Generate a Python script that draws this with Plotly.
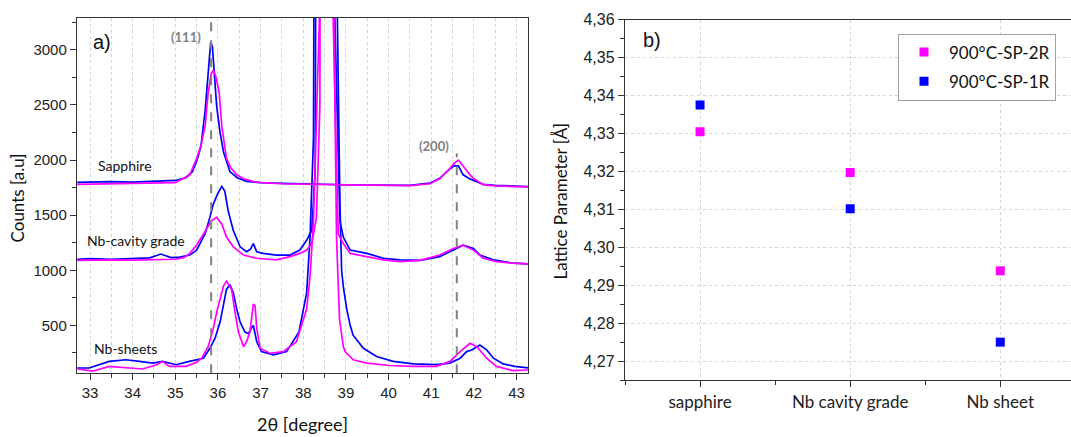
import plotly.graph_objects as go

W, H = 1071, 437

# ---------------- panel a: XRD scans (2theta in degree, counts) ----------------
# Sapphire substrate
sap_1r_x = [32.70, 33.0, 33.5, 34.0, 34.5, 35.0, 35.25, 35.4, 35.5, 35.6, 35.7, 35.76, 35.8, 35.83,
            35.87, 35.92, 35.97, 36.05, 36.13, 36.28, 36.45, 36.67, 37.0, 37.5, 38.0, 38.5, 39.0,
            39.5, 40.0, 40.5, 40.97, 41.2, 41.44, 41.55, 41.64, 41.75, 41.9, 42.0, 42.22, 42.5, 43.0, 43.27]
sap_1r_y = [1798, 1802, 1805, 1800, 1805, 1815, 1840, 1895, 1990, 2120, 2450, 2750, 2950, 3070,
            3030, 2800, 2490, 2250, 2074, 1896, 1840, 1807, 1795, 1788, 1782, 1778, 1776,
            1774, 1772, 1770, 1790, 1835, 1920, 1950, 1945, 1866, 1830, 1815, 1780, 1770, 1762, 1760]
sap_2r_x = [32.70, 33.0, 33.5, 34.0, 34.5, 35.0, 35.34, 35.5, 35.6, 35.7, 35.77, 35.84, 35.89,
            35.95, 36.03, 36.09, 36.2, 36.3, 36.44, 36.6, 36.82, 37.0, 37.5, 38.0, 38.5, 39.0,
            39.5, 40.0, 40.5, 40.97, 41.2, 41.44, 41.55, 41.64, 41.72, 41.8, 41.91, 42.0, 42.22,
            42.5, 43.0, 43.27]
sap_2r_y = [1780, 1782, 1785, 1783, 1786, 1795, 1866, 2015, 2130, 2311, 2609, 2780, 2817,
            2760, 2609, 2311, 2015, 1930, 1866, 1830, 1807, 1795, 1785, 1780, 1777, 1775,
            1772, 1770, 1768, 1785, 1830, 1926, 1975, 2000, 1960, 1910, 1866, 1830, 1777,
            1765, 1758, 1756]

# Nb cavity grade
cav_1r_x = [32.70, 33.0, 33.5, 34.0, 34.4, 34.66, 34.9, 35.1, 35.34, 35.5, 35.7, 35.81, 35.89,
            36.0, 36.09, 36.16, 36.24, 36.36, 36.52, 36.67, 36.76, 36.83, 36.91, 37.06, 37.37,
            37.69, 37.92, 38.08, 38.2, 38.28, 38.33, 38.55, 38.74, 38.82, 38.86, 38.94, 39.1,
            39.49, 39.88, 40.27, 40.74, 41.2, 41.52, 41.75, 41.99, 42.14, 42.46, 42.92, 43.27]
cav_1r_y = [1100, 1105, 1100, 1108, 1112, 1147, 1115, 1120, 1138, 1183, 1332, 1480, 1599,
            1700, 1762, 1718, 1539, 1361, 1213, 1168, 1190, 1242, 1168, 1153, 1138,
            1138, 1183, 1272, 1361, 1896, 3300, 40000, 3300, 1896, 1450, 1300, 1183,
            1153, 1109, 1094, 1090, 1124, 1183, 1228, 1198, 1139, 1094, 1064, 1058]
cav_2r_x = [32.70, 33.0, 33.5, 34.0, 34.5, 35.0, 35.2, 35.34, 35.5, 35.7, 35.85, 35.97, 36.09,
            36.2, 36.36, 36.6, 36.91, 37.37, 37.69, 37.92, 38.08, 38.2, 38.31, 38.39, 38.43,
            38.55, 38.7, 38.78, 38.82, 38.9, 38.94, 39.1, 39.49, 39.88, 40.27, 40.74, 41.2,
            41.52, 41.75, 41.99, 42.22, 42.53, 42.92, 43.27]
cav_2r_y = [1090, 1092, 1095, 1092, 1096, 1100, 1115, 1153, 1228, 1361, 1450, 1480, 1421,
            1302, 1213, 1138, 1109, 1094, 1124, 1153, 1183, 1242, 1480, 2490, 3300,
            40000, 3300, 1896, 1332, 1272, 1242, 1153, 1124, 1094, 1079, 1090, 1139,
            1198, 1228, 1183, 1109, 1079, 1064, 1058]

# Nb sheets
sht_1r_x = [32.70, 32.98, 33.45, 33.84, 34.16, 34.47, 34.7, 35.02, 35.33, 35.66, 35.81, 35.93,
            36.05, 36.13, 36.2, 36.28, 36.36, 36.44, 36.52, 36.63, 36.71, 36.83, 36.91, 37.02,
            37.3, 37.61, 37.9, 38.08, 38.16, 38.24, 38.28, 38.55, 38.8, 38.86, 38.9, 38.94,
            39.02, 39.1, 39.17, 39.41, 39.72, 40.11, 40.58, 41.13, 41.44, 41.68, 41.83, 41.95,
            42.14, 42.3, 42.46, 42.69, 42.96, 43.27]
sht_1r_y = [113, 113, 173, 188, 173, 158, 173, 143, 173, 202, 292, 381,
            530, 678, 826, 871, 797, 648, 530, 440, 425, 500, 351, 262,
            233, 262, 440, 797, 1302, 2195, 3300, 40000, 3300, 1599, 1000, 850,
            648, 500, 411, 292, 217, 173, 150, 143, 158, 202, 262, 277,
            322, 277, 202, 150, 128, 115]
sht_2r_x = [32.70, 33.06, 33.45, 33.84, 34.23, 34.55, 34.7, 34.86, 35.25, 35.5, 35.62, 35.77,
            35.89, 35.97, 36.05, 36.13, 36.2, 36.32, 36.4, 36.48, 36.6, 36.67, 36.75, 36.83,
            36.87, 36.91, 36.99, 37.22, 37.53, 37.84, 38.08, 38.16, 38.24, 38.31, 38.38, 38.55,
            38.72, 38.78, 38.85, 38.94, 38.98, 39.17, 39.49, 40.03, 40.58, 41.13, 41.44, 41.68,
            41.91, 42.07, 42.3, 42.53, 42.92, 43.27]
sht_2r_y = [104, 84, 128, 113, 104, 140, 173, 128, 128, 165, 202, 307,
            470, 619, 737, 856, 901, 826, 619, 440, 307, 351, 440, 693,
            678, 470, 292, 247, 262, 351, 648, 946, 1450, 2490, 3300, 40000,
            3300, 1302, 559, 307, 262, 188, 158, 136, 128, 128, 173, 262,
            337, 307, 202, 128, 90, 95]

peak_labels = ["(111)", "(200)"]
peak_pos = [35.84, 41.6]
peak_line_top = [3291, 2062]
peak_label_xy = [(35.25, 3119), (41.07, 2129)]
sample_labels = ["Sapphire", "Nb-cavity grade", "Nb-sheets"]
sample_label_xy = [(33.83, 1955), (34.08, 1272), (33.84, 291)]

# ---------------- panel b: lattice parameter ----------------
categories = ["sapphire", "Nb cavity grade", "Nb sheet"]
lat_2r = [4.3305, 4.3197, 4.2938]
lat_1r = [4.3375, 4.3102, 4.2750]

BLUE = "#0000ff"
MAG = "#ff00ff"
TXT = "#222222"
AX = "#333333"
GRID = "#d4d4d4"
ARIAL = "Arial, Liberation Sans, sans-serif"
CAL = "Lato, Carlito, Calibri, sans-serif"

fig = go.Figure()
for (xs, ys, col) in [(sap_1r_x, sap_1r_y, BLUE), (cav_1r_x, cav_1r_y, BLUE), (sht_1r_x, sht_1r_y, BLUE),
                      (sap_2r_x, sap_2r_y, MAG), (cav_2r_x, cav_2r_y, MAG), (sht_2r_x, sht_2r_y, MAG)]:
    fig.add_trace(go.Scatter(x=xs, y=ys, mode="lines", line=dict(color=col, width=1.7),
                             xaxis="x", yaxis="y", showlegend=False, hoverinfo="skip"))

cat_idx = list(range(len(categories)))
fig.add_trace(go.Scatter(x=cat_idx, y=lat_2r, mode="markers", name="900°C-SP-2R", legendgroup="g1",
                         marker=dict(symbol="square", size=9, color=MAG), xaxis="x2", yaxis="y2"))
fig.add_trace(go.Scatter(x=cat_idx, y=lat_1r, mode="markers", name="900°C-SP-1R", legendgroup="g2",
                         marker=dict(symbol="square", size=9, color=BLUE), xaxis="x2", yaxis="y2"))

# reference dashed lines
for xp, yt in zip(peak_pos, peak_line_top):
    fig.add_shape(type="line", xref="x", yref="y", x0=xp, x1=xp, y0=66, y1=yt,
                  line=dict(color="#808080", width=2, dash="dash"))

ann = []
for t, (xa, ya) in zip(peak_labels, peak_label_xy):
    ann.append(dict(x=xa, y=ya, xref="x", yref="y", text="<b>%s</b>" % t,
                    font=dict(family=CAL, size=13, color="#7f7f7f")))
for t, (xa, ya) in zip(sample_labels, sample_label_xy):
    ann.append(dict(x=xa, y=ya, xref="x", yref="y", text=t,
                    font=dict(family=CAL, size=14, color="#111111")))
ann.append(dict(x=33.27, y=3074, xref="x", yref="y", text="a)",
                font=dict(family=ARIAL, size=20, color="#111111")))
ann.append(dict(x=-0.32, y=4.3546, xref="x2", yref="y2", text="b)",
                font=dict(family=ARIAL, size=20, color="#111111")))
# axis titles
ann.append(dict(x=17 / W, y=1 - 194 / H, xref="paper", yref="paper", text="Counts [a.u]",
                textangle=-90, font=dict(family=CAL, size=17, color="#111111")))
ann.append(dict(x=302 / W, y=1 - 424 / H, xref="paper", yref="paper", text="2θ [degree]",
                font=dict(family=CAL, size=18, color="#111111")))
ann.append(dict(x=560 / W, y=1 - 197 / H, xref="paper", yref="paper", text="Lattice Parameter [Å]",
                textangle=-90, font=dict(family=CAL, size=17, color="#111111")))
for a in ann:
    a.update(showarrow=False, xanchor="center", yanchor="middle")

common = dict(showline=True, linecolor=AX, linewidth=1.4, ticks="outside", tickcolor=AX,
              tickwidth=1.3, zeroline=False, tickfont=dict(family=ARIAL, size=15, color=TXT))

fig.update_layout(
    width=W, height=H, margin=dict(l=0, r=0, t=0, b=0),
    paper_bgcolor="white", plot_bgcolor="white",
    separators=",.",
    annotations=ann,
    xaxis=dict(domain=[77 / W, 528 / W], range=[32.695, 43.27], anchor="y",
               tick0=0, dtick=1, ticklen=6, mirror=True,
               showgrid=True, gridcolor=GRID, griddash="dot", gridwidth=1,
               minor=dict(dtick=0.5, ticks="outside", ticklen=4, tickcolor=AX,
                          showgrid=True, gridcolor=GRID, griddash="dot"),
               **common),
    yaxis=dict(domain=[1 - 372 / H, 1 - 10 / H], range=[66, 3291], anchor="x",
               tick0=0, dtick=500, ticklen=6, mirror=True, showgrid=False,
               minor=dict(dtick=250, ticks="outside", ticklen=4, tickcolor=AX),
               **common),
    xaxis2=dict(domain=[625 / W, 1.0], range=[-0.5, 2.471], anchor="y2",
                tickmode="array", tickvals=cat_idx, ticktext=categories, ticklen=6, mirror=True,
                showgrid=True, gridcolor=GRID, griddash="dot",
                minor=dict(tick0=-0.5, dtick=1, ticks="outside", ticklen=4, tickcolor=AX),
                **{**common, "tickfont": dict(family=CAL, size=17, color=TXT)}),
    yaxis2=dict(domain=[1 - 379 / H, 1 - 12 / H], range=[4.265, 4.36], anchor="x2",
                tick0=0, dtick=0.01, tickformat=".2f", ticklen=6,
                showgrid=True, gridcolor=GRID, griddash="dot",
                minor=dict(dtick=0.005, ticks="outside", ticklen=4, tickcolor=AX),
                **{**common, "tickfont": dict(family=ARIAL, size=16, color=TXT)}),
    legend=dict(x=898 / W, y=1 - 26 / H, xanchor="left", yanchor="top",
                bgcolor="white", bordercolor="#a0a0a0", borderwidth=1,
                font=dict(family=CAL, size=17, color="#111111"),
                traceorder="grouped", tracegroupgap=4, itemwidth=40),
)

fig.write_html("out.html", config={"displayModeBar": False},
               post_script="document.body.style.margin='0';")
